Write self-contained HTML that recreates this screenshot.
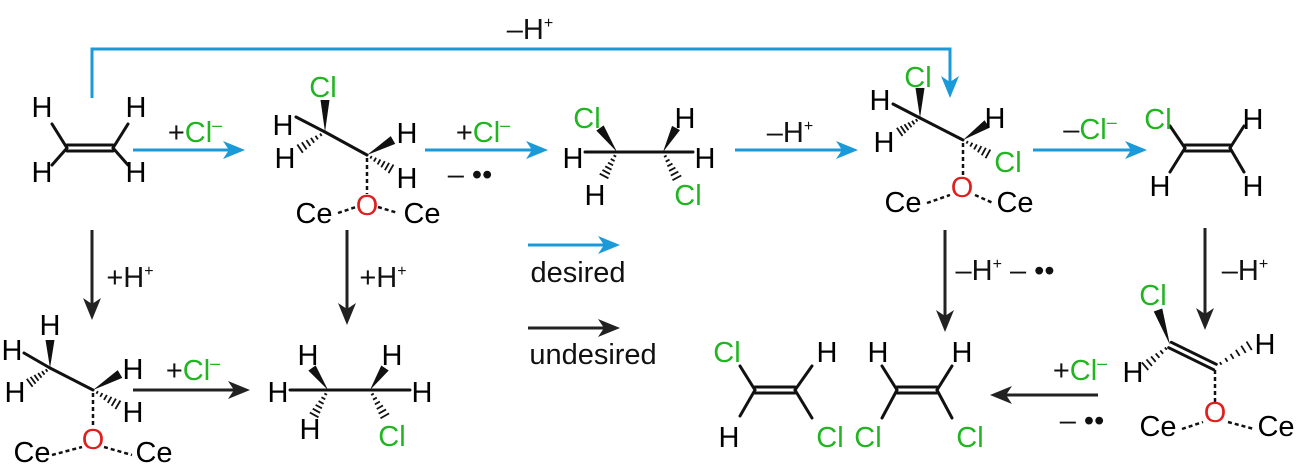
<!DOCTYPE html>
<html><head><meta charset="utf-8"><style>
html,body{margin:0;padding:0;background:#fff;}
svg{display:block;}
text{font-family:"Liberation Sans",Arial,sans-serif;font-size:29px;text-anchor:middle;}
.g{fill:#22b522;} .r{fill:#e01e1e;} .k{fill:#111;}
</style></head><body>
<svg id="s" width="1298" height="472" viewBox="0 0 1298 472" xmlns="http://www.w3.org/2000/svg">
<g id="bonds" stroke="#111" stroke-width="3" fill="none" stroke-linecap="round"></g>
<g id="shapes"></g>
<path d="M92,98 V49 H950 V80" stroke="#1a9ad9" stroke-width="3" fill="none"/>
<g id="arrows"></g>
<g transform="translate(0,2)">
<text x="530" y="37" class="k">–H<tspan font-size="16" dy="-11">+</tspan></text>
<text x="195" y="140" class="k">+<tspan class="g">Cl<tspan font-size="18" dy="-11">–</tspan></tspan></text>
<text x="483" y="140" class="k">+<tspan class="g">Cl<tspan font-size="18" dy="-11">–</tspan></tspan></text>
<text x="470" y="182" class="k">– ••</text>
<text x="790" y="140" class="k">–H<tspan font-size="16" dy="-11">+</tspan></text>
<text x="1090" y="137" class="k">–<tspan class="g">Cl<tspan font-size="18" dy="-11">–</tspan></tspan></text>
<text x="130" y="285" class="k">+H<tspan font-size="16" dy="-11">+</tspan></text>
<text x="383" y="285" class="k">+H<tspan font-size="16" dy="-11">+</tspan></text>
<text x="1005" y="278" class="k">–H<tspan font-size="16" dy="-11">+</tspan><tspan dy="11"> – ••</tspan></text>
<text x="1245" y="278" class="k">–H<tspan font-size="16" dy="-11">+</tspan></text>
<text x="578" y="280" class="k">desired</text>
<text x="593" y="362" class="k">undesired</text>
<text x="193" y="378" class="k">+<tspan class="g">Cl<tspan font-size="18" dy="-11">–</tspan></tspan></text>
<text x="1080" y="378" class="k">+<tspan class="g">Cl<tspan font-size="18" dy="-11">–</tspan></tspan></text>
<text x="1082" y="428" class="k">– ••</text>
<text x="42" y="115">H</text><text x="136" y="115">H</text><text x="42" y="180">H</text><text x="136" y="180">H</text>
<text x="323" y="95" class="g">Cl</text><text x="283" y="133">H</text><text x="285" y="166">H</text>
<text x="407" y="141">H</text><text x="407" y="186">H</text>
<text x="367" y="213" class="r">O</text><text x="314" y="221">Ce</text><text x="422" y="221">Ce</text>
<text x="587" y="126" class="g">Cl</text><text x="573" y="166">H</text><text x="595" y="203">H</text>
<text x="685" y="126">H</text><text x="705" y="166">H</text><text x="688" y="203" class="g">Cl</text>
<text x="918" y="85" class="g">Cl</text><text x="880" y="108">H</text><text x="884" y="150">H</text>
<text x="995" y="126">H</text><text x="1008" y="170" class="g">Cl</text>
<text x="962" y="195" class="r">O</text><text x="903" y="210">Ce</text><text x="1015" y="210">Ce</text>
<text x="1158" y="127" class="g">Cl</text><text x="1160" y="194">H</text><text x="1253" y="127">H</text><text x="1253" y="194">H</text>
<text x="50" y="333">H</text><text x="12" y="358">H</text><text x="15" y="400">H</text>
<text x="133" y="377">H</text><text x="133" y="420">H</text>
<text x="93" y="447" class="r">O</text><text x="32" y="460">Ce</text><text x="154" y="460">Ce</text>
<text x="278" y="400">H</text><text x="308" y="363">H</text><text x="310" y="437">H</text>
<text x="392" y="363">H</text><text x="422" y="400">H</text><text x="392" y="444" class="g">Cl</text>
<text x="727" y="360" class="g">Cl</text><text x="827" y="360">H</text><text x="729" y="445">H</text><text x="830" y="445" class="g">Cl</text>
<text x="878" y="360">H</text><text x="962" y="360">H</text><text x="868" y="445" class="g">Cl</text><text x="970" y="445" class="g">Cl</text>
<text x="1153" y="303" class="g">Cl</text><text x="1133" y="380">H</text><text x="1265" y="352">H</text>
<text x="1215" y="420" class="r">O</text><text x="1158" y="434">Ce</text><text x="1276" y="434">Ce</text>
</g>
</svg>
<script>
var NS="http://www.w3.org/2000/svg";
var B=document.getElementById('bonds'),S=document.getElementById('shapes'),A=document.getElementById('arrows');
function el(p,t,a){var e=document.createElementNS(NS,t);for(var k in a)e.setAttribute(k,a[k]);p.appendChild(e);return e;}
function L(x1,y1,x2,y2,d){var a={x1:x1,y1:y1,x2:x2,y2:y2};if(d){a['stroke-dasharray']='4,3';a['stroke-width']=2.5;a['stroke-linecap']='butt';}el(B,'line',a);}
function D(x1,y1,x2,y2){var dx=x2-x1,dy=y2-y1,l=Math.hypot(dx,dy),nx=-dy/l*3,ny=dx/l*3;L(x1+nx,y1+ny,x2+nx,y2+ny);L(x1-nx,y1-ny,x2-nx,y2-ny);}
function W(x1,y1,x2,y2){var dx=x2-x1,dy=y2-y1,l=Math.hypot(dx,dy),nx=-dy/l*4.5,ny=dx/l*4.5;el(S,'polygon',{points:x1+','+y1+' '+(x2+nx)+','+(y2+ny)+' '+(x2-nx)+','+(y2-ny),fill:'#111'});}
function H(x1,y1,x2,y2){var dx=x2-x1,dy=y2-y1,l=Math.hypot(dx,dy),ux=-dy/l,uy=dx/l;for(var i=1;i<=6;i++){var t=i/6.5,cx=x1+dx*t,cy=y1+dy*t,w=0.8+t*4.5;el(S,'line',{x1:cx+ux*w,y1:cy+uy*w,x2:cx-ux*w,y2:cy-uy*w,stroke:'#111','stroke-width':1.8});}}
function AR(x1,y1,x2,y2,c){var dx=x2-x1,dy=y2-y1,l=Math.hypot(dx,dy),ux=dx/l,uy=dy/l,px=-uy,py=ux;var bx=x2-ux*22,by=y2-uy*22;
el(A,'line',{x1:x1,y1:y1,x2:x2-ux*10,y2:y2-uy*10,stroke:c,'stroke-width':3});
el(A,'polygon',{points:x2+','+y2+' '+(bx+px*9)+','+(by+py*9)+' '+(x2-ux*16)+','+(y2-uy*16)+' '+(bx-px*9)+','+(by-py*9),fill:c});}
var bl='#1a9ad9',bk='#222';
AR(133,150,245,150,bl);AR(425,150,548,150,bl);AR(735,150,858,150,bl);AR(1033,150,1147,150,bl);
AR(950,60,950,98,bl);AR(528,245,620,245,bl);AR(528,328,620,328,bk);
AR(92,230,92,320,bk);AR(347,230,347,325,bk);AR(945,230,945,332,bk);AR(1205,228,1205,330,bk);
AR(133,390,250,390,bk);AR(1098,395,990,395,bk);
D(67,148,113,148);L(67,148,52,124);L(67,148,52,165);L(113,148,128,124);L(113,148,128,165);
L(325,132,367,155);W(325,132,325,100);L(325,132,296,117);H(325,132,298,150);W(367,155,393,140);H(367,155,393,170);L(367,158,367,194,1);L(338,213,356,207,1);L(378,207,398,213,1);
L(617,152,663,152);L(585,152,617,152);W(617,152,600,128);H(617,152,603,178);W(663,152,676,128);L(663,152,693,152);H(663,152,678,180);
L(920,118,963,140);W(920,118,920,88);L(920,118,893,104);H(920,118,898,133);W(963,140,987,124);H(963,140,990,155);L(963,143,963,175,1);L(927,203,950,195,1);L(975,195,993,203,1);
D(1185,148,1230,148);L(1185,148,1170,126);L(1185,148,1170,172);L(1230,148,1244,126);L(1230,148,1244,172);
L(50,368,93,390);W(50,368,50,340);L(50,368,24,353);H(50,368,28,384);W(93,390,120,374);H(93,390,120,406);L(93,393,93,428,1);L(52,455,82,447,1);L(104,447,132,455,1);
L(290,390,328,390);L(328,390,370,390);L(370,390,410,390);W(328,390,312,368);H(328,390,313,417);W(370,390,385,368);H(370,390,386,418);
D(755,390,795,390);L(755,390,740,366);L(755,390,740,416);L(795,390,812,366);L(795,390,812,418);
D(897,390,937,390);L(897,390,882,366);L(897,390,882,418);L(937,390,952,366);L(937,390,952,418);
D(1170,345,1215,367);W(1170,345,1158,310);H(1170,345,1143,368);H(1215,367,1252,344);L(1215,370,1215,404,1);L(1182,429,1203,422,1);L(1228,422,1254,429,1);
</script>
</body></html>
